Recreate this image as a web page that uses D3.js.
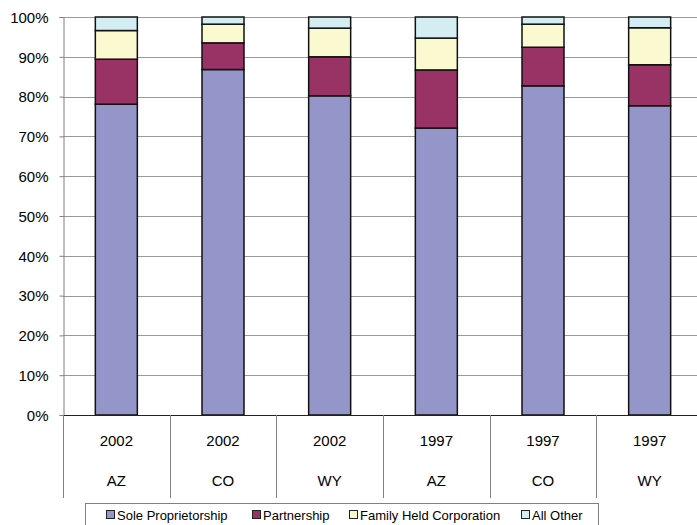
<!DOCTYPE html>
<html>
<head>
<meta charset="utf-8">
<script src="https://cdn.jsdelivr.net/npm/d3@7"></script>
<style>
  body { margin: 0; background: #fff; }
  svg text { font-family: "Liberation Sans", Arial, sans-serif; fill: #000; }
</style>
</head>
<body>
<div id="chart"></div>
<script>
// categories: year / state pairs
const years = ["2002", "2002", "2002", "1997", "1997", "1997"];
const states = ["AZ", "CO", "WY", "AZ", "CO", "WY"];

// share of farms (%) by organization type
const seriesNames = ["Sole Proprietorship", "Partnership", "Family Held Corporation", "All Other"];
const soleProp = [78.1, 86.8, 80.2, 72.1, 82.7, 77.7];
const partnership = [11.3, 6.7, 9.8, 14.6, 9.7, 10.3];
const familyCorp = [7.2, 4.7, 7.2, 8.0, 5.8, 9.3];
const allOther = [3.4, 1.8, 2.8, 5.3, 1.8, 2.7];

const yTicks = [0, 10, 20, 30, 40, 50, 60, 70, 80, 90, 100];
const colors = ["#9495c8", "#993366", "#fbf9cf", "#d3edf3"];

const width = 697, height = 525;
const margin = {left: 63, right: -6, top: 17, bottom: 110};

const svg = d3.select("#chart").append("svg")
    .attr("width", width)
    .attr("height", height);

const idx = d3.range(years.length);
const rows = idx.map(i => ({
    i: i,
    "Sole Proprietorship": soleProp[i],
    "Partnership": partnership[i],
    "Family Held Corporation": familyCorp[i],
    "All Other": allOther[i]
}));

const x = d3.scaleBand()
    .domain(idx)
    .range([margin.left, width - margin.right])
    .paddingInner(0)
    .paddingOuter(0);

const y = d3.scaleLinear()
    .domain([0, 100])
    .range([height - margin.bottom, margin.top]);

// gridlines
svg.append("g")
    .selectAll("line")
    .data(yTicks.filter(d => d > 0))
    .join("line")
    .attr("x1", margin.left)
    .attr("x2", width)
    .attr("y1", d => Math.round(y(d)) + 0.5)
    .attr("y2", d => Math.round(y(d)) + 0.5)
    .attr("stroke", "#9a9a9a")
    .attr("stroke-width", 1);

// y axis
const yAxis = svg.append("g")
    .attr("transform", `translate(${margin.left + 0.5},0)`)
    .call(d3.axisLeft(y).tickValues(yTicks).tickFormat(d => d + "%").tickSize(4).tickPadding(11));
yAxis.select(".domain").attr("stroke", "#808080");
yAxis.selectAll(".tick line").attr("stroke", "#808080");
yAxis.selectAll("text")
    .style("font-size", "15px")
    .attr("dy", "0.35em");

// stacked bars
const stack = d3.stack().keys(seriesNames);
const stacked = stack(rows);
const barW = 42;

svg.append("g")
    .selectAll("g")
    .data(stacked)
    .join("g")
    .attr("fill", (d, i) => colors[i])
    .selectAll("rect")
    .data(d => d)
    .join("rect")
    .attr("x", d => x(d.data.i) + x.bandwidth() / 2 - barW / 2)
    .attr("y", d => y(d[1]))
    .attr("width", barW)
    .attr("height", d => y(d[0]) - y(d[1]))
    .attr("stroke", "#111")
    .attr("stroke-width", 1.5);

// x baseline
const baseY = y(0);
svg.append("line")
    .attr("x1", margin.left)
    .attr("x2", width)
    .attr("y1", baseY + 0.5)
    .attr("y2", baseY + 0.5)
    .attr("stroke", "#222")
    .attr("stroke-width", 1);

// category separators
const sepBottom = 498;
const seps = idx.map(i => x(i));
svg.append("g")
    .selectAll("line")
    .data(seps)
    .join("line")
    .attr("x1", d => Math.round(d) + 0.5)
    .attr("x2", d => Math.round(d) + 0.5)
    .attr("y1", baseY)
    .attr("y2", sepBottom)
    .attr("stroke", "#808080");

// category labels
const cat = svg.append("g");
cat.selectAll(".yr")
    .data(idx)
    .join("text")
    .attr("class", "yr")
    .attr("x", d => x(d) + x.bandwidth() / 2)
    .attr("y", 446)
    .attr("text-anchor", "middle")
    .style("font-size", "15px")
    .text(d => years[d]);
cat.selectAll(".st")
    .data(idx)
    .join("text")
    .attr("class", "st")
    .attr("x", d => x(d) + x.bandwidth() / 2)
    .attr("y", 486)
    .attr("text-anchor", "middle")
    .style("font-size", "15px")
    .text(d => states[d]);

// legend
const legend = svg.append("g");
legend.append("rect")
    .attr("x", 85.5)
    .attr("y", 503.5)
    .attr("width", 513)
    .attr("height", 30)
    .attr("fill", "#fff")
    .attr("stroke", "#808080");

const legendX = [107, 253, 350, 522];
const items = legend.selectAll("g")
    .data(seriesNames)
    .join("g")
    .attr("transform", (d, i) => `translate(${legendX[i]},515)`);
items.append("rect")
    .attr("x", -0.5)
    .attr("y", -4.5)
    .attr("width", 8)
    .attr("height", 8)
    .attr("fill", (d, i) => colors[i])
    .attr("stroke", "#222");
items.append("text")
    .attr("x", 10)
    .attr("y", 0)
    .attr("dy", "0.35em")
    .style("font-size", "13px")
    .text(d => d);
</script>
</body>
</html>
